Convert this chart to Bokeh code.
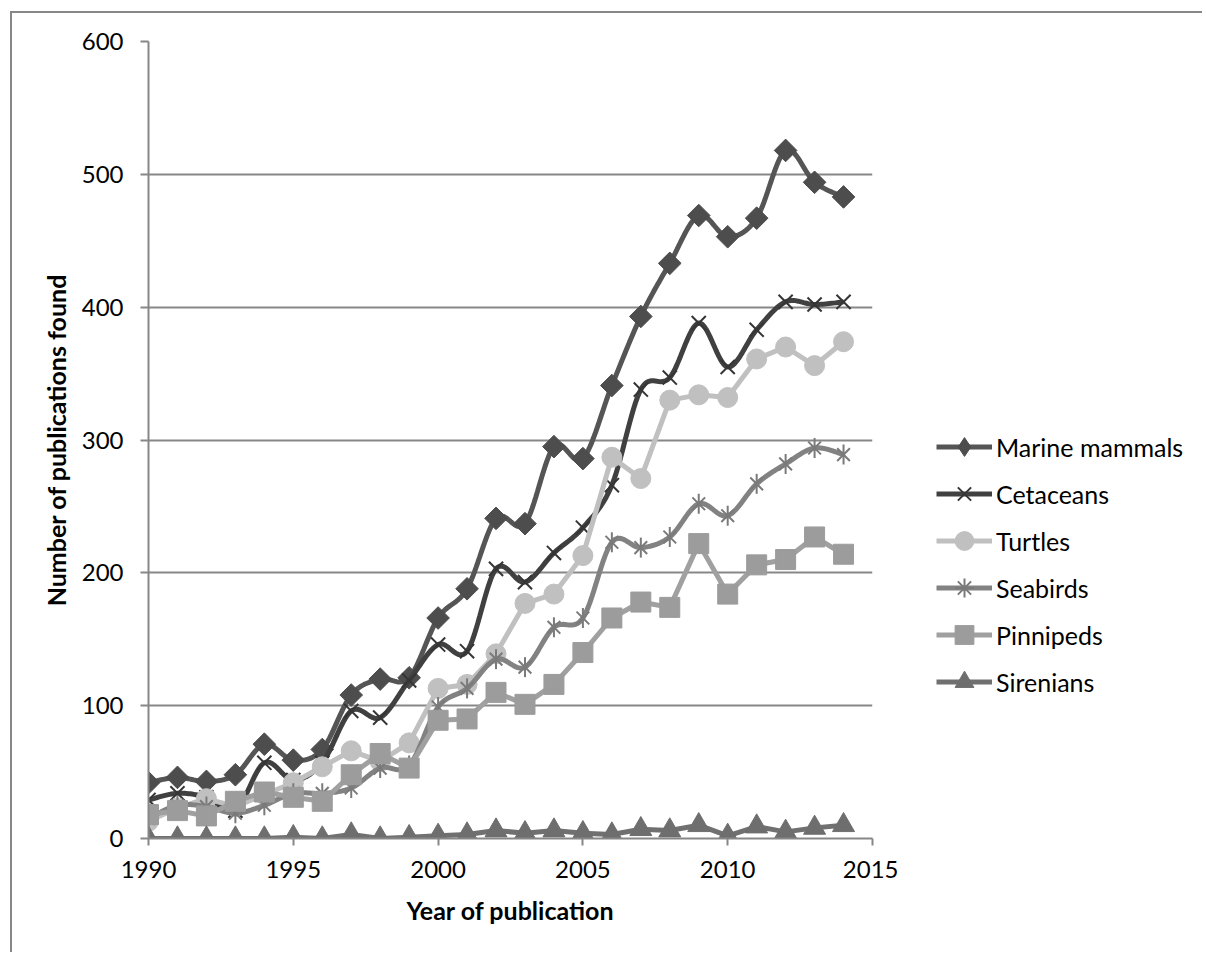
import numpy as np
from bokeh.plotting import figure
from bokeh.layouts import row
from bokeh.models import Range1d, FixedTicker, Legend, LegendItem
from bokeh.embed import file_html
from bokeh.resources import INLINE

years = list(range(1990, 2015))
marine_mammals = [42, 46, 43, 48, 71, 59, 67, 108, 120, 121, 166, 188, 241, 237, 295, 286, 341, 393, 433, 469, 453, 467, 518, 494, 483]
cetaceans = [29, 34, 31, 21, 57, 44, 57, 96, 91, 119, 146, 141, 203, 193, 215, 234, 266, 338, 347, 388, 355, 383, 404, 402, 404]
turtles = [13, 23, 30, 24, 33, 42, 54, 66, 58, 72, 113, 116, 139, 177, 184, 213, 287, 271, 330, 334, 332, 361, 370, 356, 374]
seabirds = [15, 25, 24, 19, 25, 34, 34, 38, 53, 55, 99, 113, 135, 129, 159, 166, 223, 219, 227, 252, 243, 267, 282, 294, 289]
pinnipeds = [18, 21, 17, 28, 35, 31, 28, 48, 64, 53, 89, 90, 110, 101, 116, 140, 166, 178, 174, 222, 184, 206, 210, 227, 214]
sirenians = [0, 0, 0, 0, 0, 1, 0, 3, 0, 1, 2, 3, 6, 4, 6, 4, 3, 7, 6, 10, 2, 9, 5, 8, 10]
series_names = ["Marine mammals", "Cetaceans", "Turtles", "Seabirds", "Pinnipeds", "Sirenians"]

x_ticks = [1990, 1995, 2000, 2005, 2010, 2015]
y_ticks = [0, 100, 200, 300, 400, 500, 600]

FONT = "Lato"
BORDER = "2px solid #878787"


def smooth(xs, ys, n=16):
    """Catmull-Rom curve through the data points (drawing only, like Excel's smoothed line)."""
    pts = list(zip(xs, ys))
    ox, oy = [], []
    for i in range(len(pts) - 1):
        p0 = pts[i - 1] if i > 0 else pts[i]
        p1 = pts[i]
        p2 = pts[i + 1]
        p3 = pts[i + 2] if i + 2 < len(pts) else pts[i + 1]
        for t in np.linspace(0, 1, n, endpoint=False):
            t2, t3 = t * t, t * t * t
            vals = []
            for k in range(2):
                v = 0.5 * ((2 * p1[k]) + (-p0[k] + p2[k]) * t
                           + (2 * p0[k] - 5 * p1[k] + 4 * p2[k] - p3[k]) * t2
                           + (-p0[k] + 3 * p1[k] - 3 * p2[k] + p3[k]) * t3)
                vals.append(v)
            ox.append(vals[0])
            oy.append(vals[1])
    ox.append(pts[-1][0])
    oy.append(pts[-1][1])
    return ox, oy


# ---------------- main chart ----------------
p = figure(width=888, height=941, output_backend="svg", toolbar_location=None,
           x_range=Range1d(1990, 2015), y_range=Range1d(0, 600),
           min_border_left=136, min_border_right=28, min_border_top=28, min_border_bottom=116)
p.styles = {"border-left": BORDER, "border-top": BORDER}
p.outline_line_color = None
p.background_fill_color = "white"
p.border_fill_color = "white"

p.xgrid.grid_line_color = None
p.ygrid.grid_line_color = "#878787"
p.ygrid.grid_line_width = 2
p.xaxis.ticker = FixedTicker(ticks=x_ticks)
p.yaxis.ticker = FixedTicker(ticks=y_ticks)
for ax in (p.xaxis[0], p.yaxis[0]):
    ax.axis_line_color = "#878787"
    ax.axis_line_width = 2
    ax.major_tick_line_color = "#878787"
    ax.major_tick_line_width = 2
    ax.major_tick_in = 0
    ax.minor_tick_line_color = None
    ax.major_label_text_font = FONT
    ax.major_label_text_font_size = "24px"
    ax.major_label_text_color = "black"
    ax.axis_label_text_font = FONT
    ax.axis_label_text_font_size = "25px"
    ax.axis_label_text_font_style = "bold"
    ax.axis_label_text_color = "black"
p.xaxis.major_tick_out = 7
p.yaxis.major_tick_out = 8
p.xaxis.major_label_standoff = 15
p.yaxis.major_label_standoff = 17
p.xaxis.axis_label = "Year of publication"
p.yaxis.axis_label = "Number of publications found"
p.xaxis.axis_label_standoff = 14
p.yaxis.axis_label_standoff = 8

# Marine mammals
sx, sy = smooth(years, marine_mammals)
p.line(sx, sy, line_color="#555555", line_width=5)
p.scatter(years, marine_mammals, marker="square", size=16, angle=np.pi / 4,
          fill_color="#4d4d4d", line_color="#4d4d4d")
# Cetaceans
sx, sy = smooth(years, cetaceans)
p.line(sx, sy, line_color="#404040", line_width=5)
p.scatter(years, cetaceans, marker="x", size=20, line_color="#353535", line_width=2)
# Turtles
p.line(years, turtles, line_color="#c0c0c0", line_width=5)
p.scatter(years, turtles, marker="circle", size=20, fill_color="#c0c0c0", line_color="#c0c0c0")
# Seabirds
sx, sy = smooth(years, seabirds)
p.line(sx, sy, line_color="#828282", line_width=5)
p.scatter(years, seabirds, marker="x", size=18, line_color="#7a7a7a", line_width=2)
p.scatter(years, seabirds, marker="dash", size=20, angle=np.pi / 2, line_color="#7a7a7a", line_width=2)
# Pinnipeds
p.line(years, pinnipeds, line_color="#a0a0a0", line_width=5)
p.scatter(years, pinnipeds, marker="square", size=20, fill_color="#9c9c9c", line_color="#9c9c9c")
# Sirenians
p.line(years, sirenians, line_color="#707070", line_width=5)
p.scatter(years, sirenians, marker="triangle", size=22, fill_color="#6e6e6e", line_color="#6e6e6e")

# ---------------- legend panel ----------------
lp = figure(width=304, height=941, output_backend="svg", toolbar_location=None,
            x_range=Range1d(0, 1), y_range=Range1d(0, 1),
            x_axis_location=None, y_axis_location=None,
            min_border_left=0, min_border_right=0, min_border_top=0, min_border_bottom=0)
lp.styles = {"border-top": BORDER}
lp.outline_line_color = None
lp.xgrid.grid_line_color = None
lp.ygrid.grid_line_color = None
lp.border_fill_color = "white"

leg_styles = [
    ("#555555", "diamond", "#4d4d4d", "#4d4d4d", 1),
    ("#404040", "x", None, "#353535", 2),
    ("#c0c0c0", "circle", "#c0c0c0", "#c0c0c0", 1),
    ("#828282", "asterisk", None, "#7a7a7a", 2),
    ("#a0a0a0", "square", "#9c9c9c", "#9c9c9c", 1),
    ("#707070", "triangle", "#6e6e6e", "#6e6e6e", 1),
]
items = []
for name, (lc, mk, fc, mc, mw) in zip(series_names, leg_styles):
    # swatch renderers, placed outside the visible range so only the legend shows them
    lr = lp.line(x=[-5, -4], y=[-5, -4], line_color=lc, line_width=5)
    mr = lp.scatter(x=[-5], y=[-5], marker=mk, size=16, fill_color=fc, line_color=mc, line_width=mw)
    items.append(LegendItem(label=name, renderers=[lr, mr]))

legend = Legend(items=items, location=(38, 133), orientation="vertical")
legend.background_fill_alpha = 0
legend.border_line_color = None
legend.padding = 0
legend.margin = 0
legend.glyph_width = 56
legend.glyph_height = 47
legend.label_height = 47
legend.spacing = 0
legend.label_standoff = 4
legend.label_text_font = FONT
legend.label_text_font_size = "25px"
legend.label_text_color = "black"
lp.add_layout(legend, "center")

layout = row(p, lp, spacing=0)
layout.styles = {"margin-left": "10px", "margin-top": "11px"}

open("out.html", "w").write(file_html(layout, INLINE))
